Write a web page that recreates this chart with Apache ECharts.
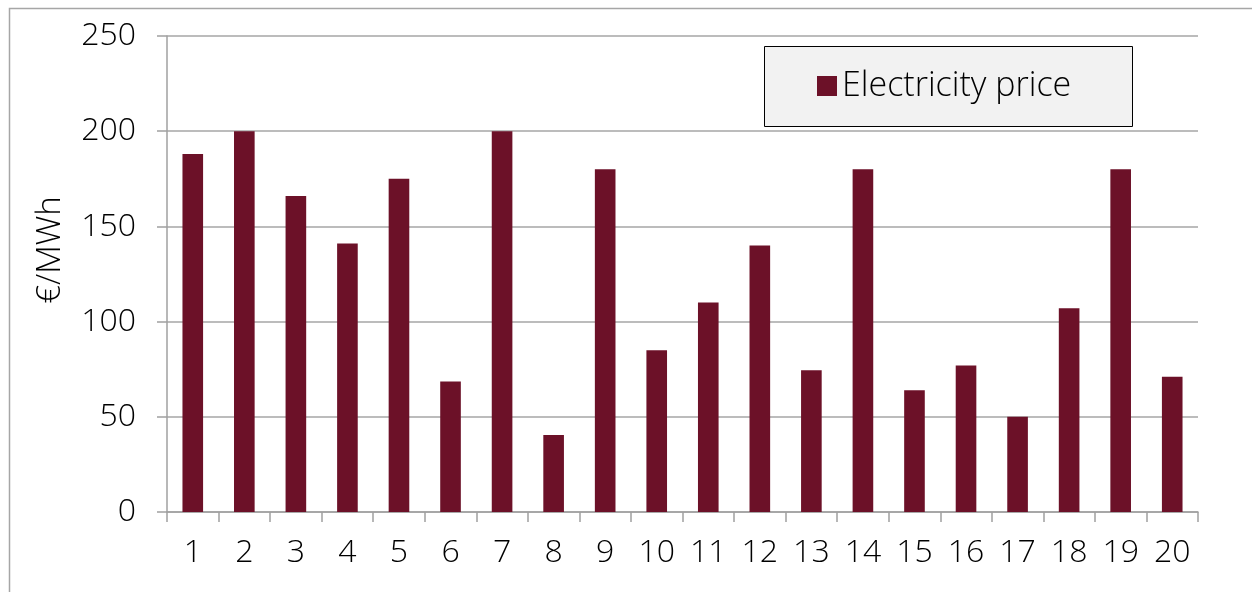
<!DOCTYPE html>
<html>
<head>
<meta charset="utf-8">
<script src="https://cdn.jsdelivr.net/npm/echarts@6/dist/echarts.min.js"></script>
<style>
  html, body { margin: 0; padding: 0; background: #fff; }
  #chart { width: 1252px; height: 592px; }
</style>
</head>
<body>
<div id="chart"></div>
<script>
// hours / periods on the x axis
const periods = ['1', '2', '3', '4', '5', '6', '7', '8', '9', '10',
  '11', '12', '13', '14', '15', '16', '17', '18', '19', '20'];
// electricity price, €/MWh
const prices = [188, 200, 166, 141, 175, 68.5, 200, 40.5, 180, 85,
  110, 140, 74.5, 180, 64, 77, 50, 107, 180, 71];
const seriesName = 'Electricity price';
const yName = '€/MWh';

const font = '"Open Sans", sans-serif';
const barColor = '#6c1128';
const gray = '#a0a0a0';

const myChart = echarts.init(document.getElementById('chart'));
const option = {
  animation: false,
  backgroundColor: '#fff',
  graphic: [
    {
      // outer chart frame (cut off on right and bottom)
      type: 'rect',
      left: 7, top: 6, z: -10,
      shape: { width: 1400, height: 800 },
      style: { fill: 'none', stroke: '#a6a6a6', lineWidth: 1.5 },
    },
    {
      // legend box
      type: 'rect',
      left: 764, top: 46, z: -5,
      shape: { width: 368, height: 80 },
      style: { fill: '#f2f2f2', stroke: '#000', lineWidth: 1 },
    },
  ],
  legend: {
    data: [seriesName],
    left: 812,
    top: 64,
    itemWidth: 20,
    itemHeight: 20,
    itemGap: 8,
    icon: 'rect',
    textStyle: { fontFamily: font, fontWeight: 300, fontSize: 34, color: '#000' },
  },
  grid: { left: 167, right: 54, top: 36, bottom: 80 },
  xAxis: {
    type: 'category',
    data: periods,
    axisLine: { lineStyle: { color: gray, width: 1.5 } },
    axisTick: { show: true, length: 10, lineStyle: { color: gray, width: 1.5 } },
    axisLabel: { fontFamily: font, fontWeight: 300, fontSize: 32, color: '#000', margin: 25 },
  },
  yAxis: {
    type: 'value',
    min: 0,
    max: 250,
    interval: 50,
    name: yName,
    nameLocation: 'middle',
    nameGap: 100,
    nameTextStyle: { fontFamily: font, fontWeight: 300, fontSize: 33, color: '#000', padding: [0, 0, 0, 48] },
    axisLine: { show: true, lineStyle: { color: gray, width: 1.5 } },
    axisTick: { show: true, length: 10, lineStyle: { color: gray, width: 1.5 } },
    axisLabel: { fontFamily: font, fontWeight: 300, fontSize: 32, color: '#000', margin: 31 },
    splitLine: { lineStyle: { color: '#a6a6a6', width: 1.5 } },
  },
  series: [
    {
      name: seriesName,
      type: 'bar',
      data: prices,
      barWidth: '40%',
      itemStyle: { color: barColor },
    },
  ],
};
myChart.setOption(option);
</script>
</body>
</html>
